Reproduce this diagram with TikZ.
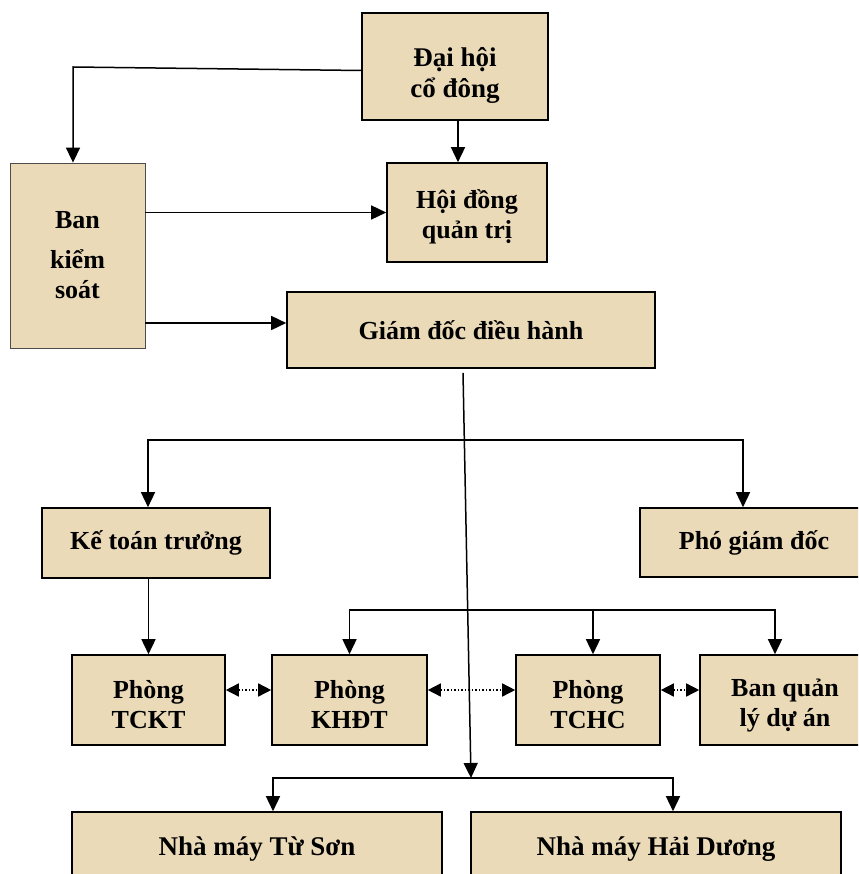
\documentclass[tikz,border=0pt]{standalone}
\usepackage{fontspec}
\setmainfont{Liberation Serif}
\usetikzlibrary{arrows.meta}
\definecolor{parch}{RGB}{234,218,184}

\begin{document}
\begin{tikzpicture}[x=1pt,y=-1pt,
  box/.style={draw=black, line width=1.6pt, fill=parch, align=center, inner sep=0pt,
    font=\bfseries\fontsize{26}{30}\selectfont},
  tbox/.style={box, font=\bfseries\fontsize{27}{31}\selectfont},
  twoline/.style={box, text height=58pt},
  conn/.style={line width=1.5pt, -{Triangle[length=15pt,width=14pt]}},
  link/.style={line width=1.5pt, dotted, {Triangle[length=13pt,width=13pt]}-{Triangle[length=13pt,width=13pt]}}]
\useasboundingbox (0,0) rectangle (858,874);
\clip (0,0) rectangle (858,874);
\node[tbox, text height=68pt, minimum width=186, minimum height=107] (dhcd) at (455,66.5) {Đại hội\\cổ đông};
\node[box, draw=black!70, line width=0.8pt, minimum width=135, minimum height=185] (bks) at (77.5,255.5) {Ban\\[10pt]kiểm\\soát};
\node[twoline, minimum width=160, minimum height=99] (hdqt) at (467,212.5) {Hội đồng\\quản trị};
\node[box, minimum width=368, minimum height=76] (gddh) at (471,330) {Giám đốc điều hành};
\node[box, minimum width=228, minimum height=70] (ktt) at (156,543) {Kế toán trưởng};
\node[box, minimum width=228, minimum height=69] (pgd) at (754,542.5) {Phó giám đốc};
\node[twoline, minimum width=153, minimum height=90] (tckt) at (148.5,700) {Phòng\\TCKT};
\node[twoline, minimum width=155, minimum height=90] (khdt) at (349.5,700) {Phòng\\KHĐT};
\node[twoline, minimum width=144, minimum height=90] (tchc) at (588,700) {Phòng\\TCHC};
\node[twoline, minimum width=170, minimum height=90] (bql) at (785,700) {Ban quản\\lý dự án};
\node[tbox, minimum width=370, minimum height=74] (nmts) at (257,849) {Nhà máy Từ Sơn};
\node[tbox, minimum width=370, minimum height=74] (nmhd) at (656,849) {Nhà máy Hải Dương};
\coordinate (c1) at (73,67);
\coordinate (bus1) at (464.5,440);
\coordinate (bus2) at (467,610);
\coordinate (hub) at (471,778);
\draw[conn] ([yshift=-4pt]dhcd.west) -- (c1) -- (c1 |- bks.north);
\draw[conn] ([xshift=3pt]dhcd.south) -- ([xshift=3pt]dhcd.south |- hdqt.north);
\draw[conn] (bks.east |- hdqt.west) -- (hdqt.west);
\draw[conn] ([yshift=7pt]gddh.west -| bks.east) -- ([yshift=7pt]gddh.west);
\draw[conn] ([xshift=-8pt,yshift=-4pt]gddh.south) -- (hub);
\draw[conn] (bus1) -| ([xshift=-8pt]ktt.north);
\draw[conn] (bus1) -| ([xshift=-11pt]pgd.north);
\draw[conn] (ktt.south -| tckt.north) -- (tckt.north);
\draw[conn] (bus2) -| (khdt.north);
\draw[conn] (bus2) -| ([xshift=5pt]tchc.north);
\draw[conn] (bus2) -| ([xshift=-10pt]bql.north);
\draw[link] ([yshift=10pt]tckt.east) -- ([yshift=10pt]khdt.west);
\draw[link] ([yshift=10pt]khdt.east) -- ([yshift=10pt]tchc.west);
\draw[link] ([yshift=10pt]tchc.east) -- ([yshift=10pt]bql.west);
\draw[conn] (hub) -| ([xshift=16pt]nmts.north);
\draw[conn] (hub) -| ([xshift=17pt]nmhd.north);
\end{tikzpicture}
\end{document}
